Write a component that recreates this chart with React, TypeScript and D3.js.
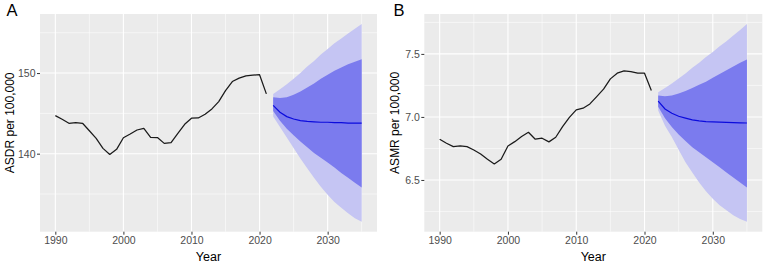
import { useEffect, useRef } from 'react';
import * as d3 from 'd3';

const W = 767, H = 264;
const PT = 14, PB = 231.7;

const histYears = d3.range(1990, 2022);
const fcstYears = d3.range(2022, 2036);

// Age-standardised DALY rate
const asdrHist = [144.72, 144.27, 143.77, 143.85, 143.77, 142.85, 141.9, 140.66, 139.91, 140.54,
  141.98, 142.44, 142.94, 143.15, 142.03, 142.0, 141.28, 141.36, 142.53, 143.65,
  144.4, 144.43, 144.89, 145.55, 146.46, 147.83, 148.95, 149.38, 149.66, 149.75, 149.8, 147.42];
const asdrMean = [146.0, 145.15, 144.6, 144.3, 144.1, 144.0, 143.95, 143.9, 143.9, 143.85, 143.85, 143.8, 143.8, 143.8];
const asdrHi80 = [147.0, 146.9, 147.0, 147.3, 147.7, 148.2, 148.7, 149.3, 149.8, 150.3, 150.7, 151.1, 151.4, 151.7];
const asdrLo80 = [145.3, 144.1, 143.1, 142.3, 141.5, 140.8, 140.1, 139.5, 138.9, 138.3, 137.6, 137.0, 136.4, 135.8];
const asdrHi95 = [147.4, 148.0, 148.6, 149.3, 150.0, 150.8, 151.5, 152.3, 153.0, 153.7, 154.3, 154.9, 155.5, 156.1];
const asdrLo95 = [144.6, 143.3, 142.0, 140.7, 139.4, 138.2, 137.0, 135.9, 134.9, 134.0, 133.3, 132.6, 132.0, 131.55];

// Age-standardised mortality rate
const asmrHist = [6.823, 6.791, 6.764, 6.770, 6.764, 6.738, 6.706, 6.664, 6.627, 6.664,
  6.770, 6.804, 6.844, 6.878, 6.823, 6.831, 6.802, 6.839, 6.923, 6.997,
  7.056, 7.069, 7.103, 7.161, 7.22, 7.302, 7.347, 7.365, 7.36, 7.347, 7.347, 7.209];
const asmrMean = [7.125, 7.063, 7.029, 7.005, 6.99, 6.976, 6.968, 6.963, 6.96, 6.958, 6.956, 6.954, 6.953, 6.952];
const asmrHi80 = [7.17, 7.165, 7.17, 7.185, 7.205, 7.23, 7.255, 7.28, 7.31, 7.34, 7.37, 7.40, 7.43, 7.455];
const asmrLo80 = [7.08, 6.99, 6.92, 6.86, 6.81, 6.76, 6.72, 6.68, 6.64, 6.60, 6.56, 6.52, 6.48, 6.44];
const asmrHi95 = [7.196, 7.23, 7.265, 7.305, 7.345, 7.39, 7.43, 7.475, 7.515, 7.56, 7.60, 7.645, 7.69, 7.738];
const asmrLo95 = [7.05, 6.93, 6.84, 6.74, 6.64, 6.56, 6.48, 6.41, 6.35, 6.30, 6.26, 6.22, 6.19, 6.168];

const xTicks = [1990, 2000, 2010, 2020, 2030];
const xMinor = [1995, 2005, 2015, 2025, 2035];
const asdrTicks = [140, 150];
const asdrMinor = [135, 145, 155];
const asmrTicks = [6.5, 7.0, 7.5];
const asmrMinor = [6.25, 6.75, 7.25, 7.75];

const FONT = '"Liberation Sans", Arial, sans-serif';
const BG = '#EBEBEB';
const BAND95 = '#C5C5F3';
const BAND80 = '#7B7BEE';

type PanelProps = {
  x0: number; x1: number; tag: string; tagX: number; title: string; titleX: number;
  hist: number[]; mean: number[]; lo80: number[]; hi80: number[]; lo95: number[]; hi95: number[];
  ticks: number[]; minor: number[]; fmt: (v: number) => string;
};

function Panel(p: PanelProps) {
  const ref = useRef<SVGGElement>(null);

  useEffect(() => {
    const g = d3.select(ref.current);
    g.selectAll('*').remove();

    const [ya, yb] = d3.extent([...histYears, ...fcstYears]) as [number, number];
    const padX = (yb - ya) * 0.05;
    const x = d3.scaleLinear().domain([ya - padX, yb + padX]).range([p.x0, p.x1]);

    const [lo, hi] = d3.extent([...p.hist, ...p.lo95, ...p.hi95]) as [number, number];
    const padY = (hi - lo) * 0.05;
    const y = d3.scaleLinear().domain([lo - padY, hi + padY]).range([PB, PT]);

    g.append('rect')
      .attr('x', p.x0).attr('y', PT)
      .attr('width', p.x1 - p.x0).attr('height', PB - PT)
      .attr('fill', BG);

    // grid
    const grid = (vals: number[], w: number) => {
      g.append('g').selectAll('line').data(vals).join('line')
        .attr('x1', (d) => x(d)).attr('x2', (d) => x(d))
        .attr('y1', PT).attr('y2', PB)
        .attr('stroke', '#fff').attr('stroke-width', w);
    };
    const hgrid = (vals: number[], w: number) => {
      g.append('g').selectAll('line').data(vals).join('line')
        .attr('x1', p.x0).attr('x2', p.x1)
        .attr('y1', (d) => y(d)).attr('y2', (d) => y(d))
        .attr('stroke', '#fff').attr('stroke-width', w);
    };
    grid(xMinor, 0.55);
    hgrid(p.minor, 0.55);
    grid(xTicks, 1.1);
    hgrid(p.ticks, 1.1);

    // forecast intervals
    const fc = fcstYears.map((yr, i) => ({
      yr, m: p.mean[i], lo80: p.lo80[i], hi80: p.hi80[i], lo95: p.lo95[i], hi95: p.hi95[i],
    }));
    g.append('path').datum(fc)
      .attr('fill', BAND95)
      .attr('d', d3.area<any>().x((d) => x(d.yr)).y0((d) => y(d.lo95)).y1((d) => y(d.hi95)));
    g.append('path').datum(fc)
      .attr('fill', BAND80)
      .attr('d', d3.area<any>().x((d) => x(d.yr)).y0((d) => y(d.lo80)).y1((d) => y(d.hi80)));
    g.append('path').datum(fc)
      .attr('fill', 'none').attr('stroke', '#0B0BDD').attr('stroke-width', 1.2)
      .attr('d', d3.line<any>().x((d) => x(d.yr)).y((d) => y(d.m)));

    // observed series
    g.append('path').datum(histYears.map((yr, i) => [yr, p.hist[i]]))
      .attr('fill', 'none').attr('stroke', '#1a1a1a').attr('stroke-width', 1.25)
      .attr('stroke-linejoin', 'round')
      .attr('d', d3.line<any>().x((d) => x(d[0])).y((d) => y(d[1])));

    const style = (ax: any) => {
      ax.select('.domain').remove();
      ax.attr('font-family', FONT).attr('font-size', 10.5);
      ax.selectAll('line').attr('stroke', '#333').attr('stroke-width', 1);
      ax.selectAll('text').attr('fill', '#4D4D4D');
    };

    g.append('g')
      .attr('transform', `translate(0,${PB})`)
      .call(d3.axisBottom(x).tickValues(xTicks).tickSize(3).tickPadding(2).tickFormat(d3.format('d')))
      .call(style);

    g.append('g')
      .attr('transform', `translate(${p.x0},0)`)
      .call(d3.axisLeft(y).tickValues(p.ticks).tickSize(3).tickPadding(1.5).tickFormat(p.fmt as any))
      .call(style);

    g.append('text')
      .attr('x', (p.x0 + p.x1) / 2).attr('y', 261)
      .attr('text-anchor', 'middle')
      .attr('font-family', FONT).attr('font-size', 12.5).attr('fill', '#000')
      .text('Year');

    g.append('text')
      .attr('transform', `translate(${p.titleX},${(PT + PB) / 2}) rotate(-90)`)
      .attr('text-anchor', 'middle')
      .attr('font-family', FONT).attr('font-size', 12).attr('fill', '#000')
      .text(p.title);

    g.append('text')
      .attr('x', p.tagX).attr('y', 16)
      .attr('font-family', FONT).attr('font-size', 16.5).attr('fill', '#000')
      .text(p.tag);
  }, []);

  return <g ref={ref} />;
}

export default function App() {
  return (
    <div style={{ position: 'absolute', left: 0, top: 0 }}>
      <svg width={W} height={H} viewBox={`0 0 ${W} ${H}`} style={{ display: 'block', background: '#fff' }}>
        <Panel x0={40} x1={377} tag="A" tagX={6.5} title="ASDR per 100,000" titleX={14}
          hist={asdrHist} mean={asdrMean} lo80={asdrLo80} hi80={asdrHi80} lo95={asdrLo95} hi95={asdrHi95}
          ticks={asdrTicks} minor={asdrMinor} fmt={d3.format('d')} />
        <Panel x0={424.3} x1={762.3} tag="B" tagX={393.5} title="ASMR per 100,000" titleX={398.5}
          hist={asmrHist} mean={asmrMean} lo80={asmrLo80} hi80={asmrHi80} lo95={asmrLo95} hi95={asmrHi95}
          ticks={asmrTicks} minor={asmrMinor} fmt={d3.format('.1f')} />
      </svg>
    </div>
  );
}
